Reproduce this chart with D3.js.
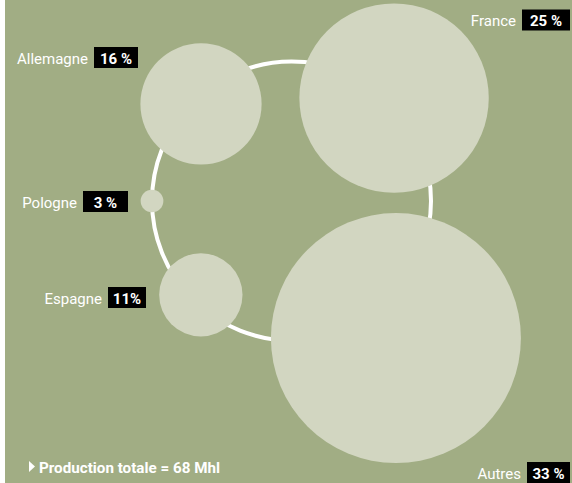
<!DOCTYPE html>
<html>
<head>
<meta charset="utf-8">
<script src="https://cdn.jsdelivr.net/npm/d3@7"></script>
<style>
  html, body { margin: 0; padding: 0; background: #ffffff; }
  svg { display: block; }
  text { font-family: "Roboto", "Noto Sans", sans-serif; }
</style>
</head>
<body>
<svg id="chart" width="572" height="483"></svg>
<script>
// Wine production share by country (%)
const countries = ["Allemagne", "France", "Autres", "Espagne", "Pologne"];
const shares = [16, 25, 33, 11, 3];
const shareLabels = ["16 %", "25 %", "33 %", "11%", "3 %"];
const totalNote = "Production totale = 68 Mhl";

// Hand-set ring layout: angle (deg, clockwise from top) and distance from ring centre
const layoutAngle = [317, 44.9, 142.7, 224, 270];
const layoutDist = [132.7, 145.3, 172.3, 130.5, 139.5];
// Label anchors: right edge of the value box, its vertical centre and its width
const labelRight = [138, 570, 570, 146, 128];
const labelMid = [57.5, 20, 472.5, 297.5, 201.5];
const labelBoxW = [44, 48, 43, 38, 45];

const W = 572, H = 483;
const svg = d3.select("#chart");

svg.append("rect").attr("x", 5).attr("y", 0).attr("width", W - 5).attr("height", H)
  .attr("fill", "#a1ad84");

const ringCentre = [291.5, 201];
const ringRadius = 139.5;

// Bubble radius proportional to share
const r = d3.scaleLinear().domain([0, 33]).range([0, 125]);

svg.append("circle")
  .attr("cx", ringCentre[0]).attr("cy", ringCentre[1]).attr("r", ringRadius)
  .attr("fill", "none").attr("stroke", "#ffffff").attr("stroke-width", 4);

const nodes = countries.map((c, i) => {
  const p = d3.pointRadial(layoutAngle[i] * Math.PI / 180, layoutDist[i]);
  return { name: c, value: shares[i], label: shareLabels[i],
           x: ringCentre[0] + p[0], y: ringCentre[1] + p[1],
           right: labelRight[i], mid: labelMid[i], bw: labelBoxW[i] };
});

svg.append("g").selectAll("circle").data(nodes).join("circle")
  .attr("cx", d => d.x).attr("cy", d => d.y).attr("r", d => r(d.value))
  .attr("fill", "#d2d6c1");

// Labels: country name followed by a black value box
const lab = svg.append("g").selectAll("g").data(nodes).join("g");
lab.each(function(d) {
  const g = d3.select(this);
  const bh = 21;
  const bx = d.right - d.bw;
  g.append("rect").attr("x", bx).attr("y", d.mid - bh / 2)
    .attr("width", d.bw).attr("height", bh).attr("fill", "#000000");
  g.append("text").text(d.label)
    .attr("x", bx + d.bw / 2).attr("y", d.mid + 1)
    .attr("fill", "#ffffff").attr("font-weight", "bold").attr("font-size", 15)
    .attr("text-anchor", "middle").attr("dominant-baseline", "central");
  g.append("text").text(d.name)
    .attr("x", bx - 6).attr("y", d.mid + 1)
    .attr("fill", "#ffffff").attr("font-size", 15)
    .attr("text-anchor", "end").attr("dominant-baseline", "central");
});

// Total production note
svg.append("path").attr("d", "M29,461 L35,466.5 L29,472 Z").attr("fill", "#ffffff");
svg.append("text").text(totalNote)
  .attr("x", 39).attr("y", 472.5)
  .attr("fill", "#ffffff").attr("font-weight", "bold").attr("font-size", 15.2);
</script>
</body>
</html>
